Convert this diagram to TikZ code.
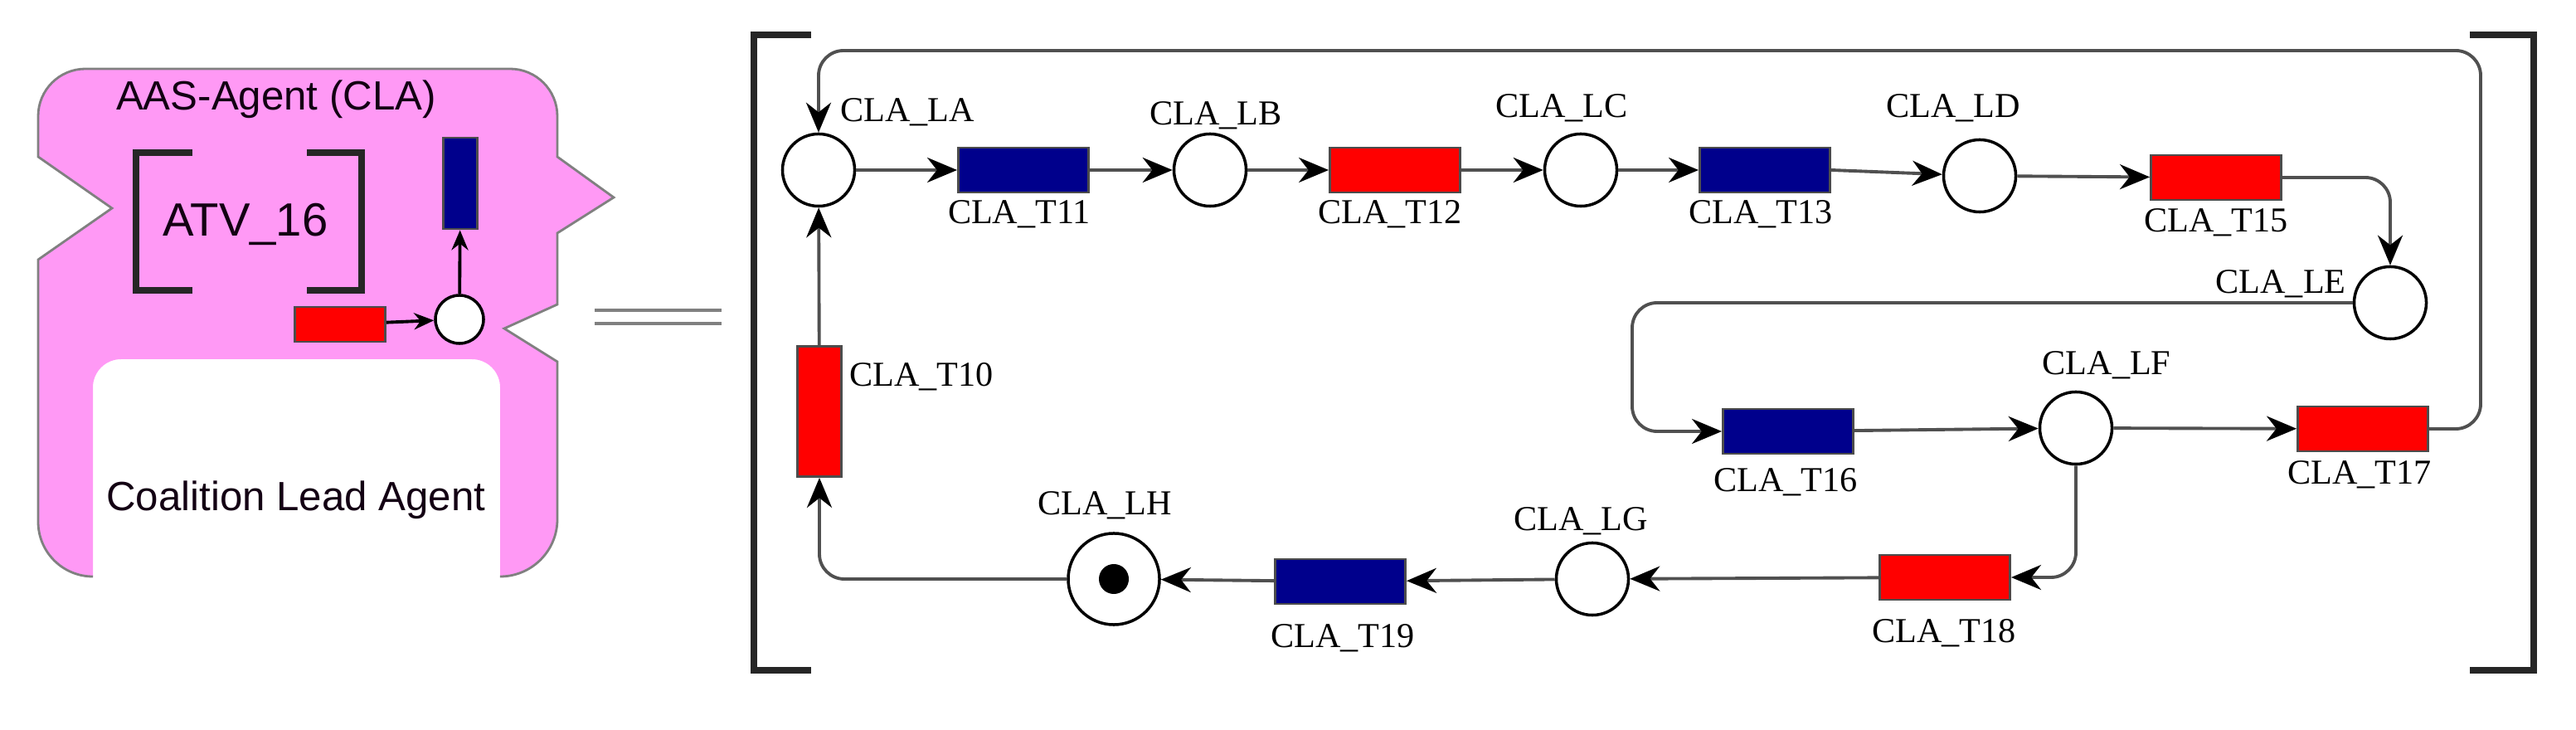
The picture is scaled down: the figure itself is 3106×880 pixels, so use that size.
\documentclass[tikz,border=0pt]{standalone}
\usepackage{fontspec}
\setmainfont{Liberation Serif}
\newfontfamily\agfont{Liberation Sans}
\usetikzlibrary{arrows.meta}
\definecolor{pinkag}{RGB}{255,153,245}
\definecolor{tred}{RGB}{255,0,0}
\definecolor{tblue}{RGB}{0,0,140}
\definecolor{lgray}{RGB}{80,80,80}
\begin{document}
\begin{tikzpicture}[x=0.01cm,y=-0.01cm,
  place/.style={circle,draw=black,line width=1pt,fill=white,minimum size=0.87cm,inner sep=0pt},
  bigplace/.style={place,minimum size=1.1cm},
  htr/.style={draw=black!70,line width=0.8pt,minimum width=1.57cm,minimum height=0.54cm,inner sep=0pt},
  redT/.style={htr,fill=tred},
  blueT/.style={htr,fill=tblue},
  lbl/.style={font=\fontsize{12}{14}\selectfont,inner sep=0pt},
  arc/.style={draw=lgray,line width=1.1pt,-{Stealth[length=0.36cm,width=0.3cm,black]},rounded corners=0.3cm},
  brk/.style={draw=black!85,line width=2.2pt},
  agtext/.style={font=\agfont\fontsize{14}{16}\selectfont,text=black!85!violet,inner sep=0pt}]
\useasboundingbox (0,0) rectangle (3106,880);
% pink agent shape
\fill[pinkag] (46,189) [rounded corners=0.57cm] -- (46,83) -- (672,83) [sharp corners] -- (672,189) -- (740,238) -- (672,281) -- (672,367) -- (608,396) -- (672,436) [rounded corners=0.69cm] -- (672,695) [sharp corners] -- (603,695) [rounded corners=0.34cm] -- (603,433) -- (112,433) [sharp corners] -- (112,695) [rounded corners=0.66cm] -- (46,695) [sharp corners] -- (46,313) -- (135,251) -- cycle;
\draw[gray,line width=0.8pt] (112,695) [rounded corners=0.66cm] -- (46,695) [sharp corners] -- (46,313) -- (135,251) -- (46,189) [rounded corners=0.57cm] -- (46,83) -- (672,83) [sharp corners] -- (672,189) -- (740,238) -- (672,281) -- (672,367) -- (608,396) -- (672,436) [rounded corners=0.69cm] -- (672,695) [sharp corners] -- (603,695);
\node[agtext] (agname) at (333,120) {AAS-Agent (CLA)};
\node[agtext] (aglead) at (357,603) {Coalition Lead Agent};
\node[agtext,font=\agfont\fontsize{16}{18}\selectfont] (atv) at (296,270) {ATV\_16};
\draw[brk] (232,184) -- (164,184) -- (164,350) -- (232,350);
\draw[brk] (370,184) -- (436,184) -- (436,350) -- (370,350);
\node[redT,minimum width=1.09cm,minimum height=0.42cm] (ar) at (410,391) {};
\node[place,minimum size=0.58cm] (ap) at (554,385) {};
\node[blueT,minimum width=0.41cm,minimum height=1.1cm] (ab) at (555,221) {};
\draw[arc,-{Stealth[length=0.24cm,width=0.2cm]},draw=black] (ar) -- (ap);
\draw[arc,-{Stealth[length=0.24cm,width=0.2cm]},draw=black] (ap) -- (ab);
% equals
\draw[gray,line width=1.3pt] (717,374) -- (870,374) (717,390) -- (870,390);
% brackets
\draw[brk] (978,42) -- (909,42) -- (909,808) -- (978,808);
\draw[brk] (2978,42) -- (3055,42) -- (3055,808) -- (2978,808);
% places
\node[place] (LA) at (987,205) {};
\node[place] (LB) at (1459,205) {};
\node[place] (LC) at (1906,205) {};
\node[place] (LD) at (2387,212) {};
\node[place] (LE) at (2882,365) {};
\node[place] (LF) at (2503,516) {};
\node[place] (LG) at (1920,698) {};
\node[bigplace] (LH) at (1343,698) {};
\fill (LH.center) circle (0.18cm);
% transitions
\node[blueT] (T11) at (1234,205) {};
\node[redT] (T12) at (1682,205) {};
\node[blueT] (T13) at (2128,205) {};
\node[redT] (T15) at (2672,214) {};
\node[blueT] (T16) at (2156,520) {};
\node[redT] (T17) at (2849,517) {};
\node[redT] (T18) at (2345,696) {};
\node[blueT] (T19) at (1616,701) {};
\node[redT,minimum width=0.53cm,minimum height=1.57cm] (T10) at (988,496) {};
% labels
\node[lbl] (lLA) at (1094,135) {CLA\_LA};
\node[lbl] (lLB) at (1466,139) {CLA\_LB};
\node[lbl] (lLC) at (1883,130) {CLA\_LC};
\node[lbl] (lLD) at (2355,130) {CLA\_LD};
\node[lbl] (lLE) at (2750,342) {CLA\_LE};
\node[lbl] (lLF) at (2540,440) {CLA\_LF};
\node[lbl] (lLG) at (1906,628) {CLA\_LG};
\node[lbl] (lLH) at (1332,609) {CLA\_LH};
\node[lbl] (lT10) at (1111,454) {CLA\_T10};
\node[lbl] (lT11) at (1229,258) {CLA\_T11};
\node[lbl] (lT12) at (1676,258) {CLA\_T12};
\node[lbl] (lT13) at (2123,258) {CLA\_T13};
\node[lbl] (lT15) at (2672,268) {CLA\_T15};
\node[lbl] (lT16) at (2153,581) {CLA\_T16};
\node[lbl] (lT17) at (2845,572) {CLA\_T17};
\node[lbl] (lT18) at (2344,763) {CLA\_T18};
\node[lbl] (lT19) at (1619,769) {CLA\_T19};
% arcs
\draw[arc] (LA) -- (T11);
\draw[arc] (T11) -- (LB);
\draw[arc] (LB) -- (T12);
\draw[arc] (T12) -- (LC);
\draw[arc] (LC) -- (T13);
\draw[arc] (T13.east) -- (LD);
\draw[arc] (LD) -- (T15);
\draw[arc] (T15.east) -- (LE.north |- T15.east) -- (LE.north);
\draw[arc] (LE.west) -- (1968,365) -- (1968,520) -- (T16.west);
\draw[arc] (T16) -- (LF);
\draw[arc] (LF) -- (T17);
\draw[arc] (T17.east) -- (2991,517) -- (2991,61) -- (987,61) -- (LA.north);
\draw[arc] (LF.south) -- (2503,696) -- (T18.east);
\draw[arc] (T18) -- (LG);
\draw[arc] (LG) -- (T19);
\draw[arc] (T19) -- (LH);
\draw[arc] (LH.west) -- (988,698) -- (T10.south);
\draw[arc] (T10) -- (LA);
\end{tikzpicture}
\end{document}
